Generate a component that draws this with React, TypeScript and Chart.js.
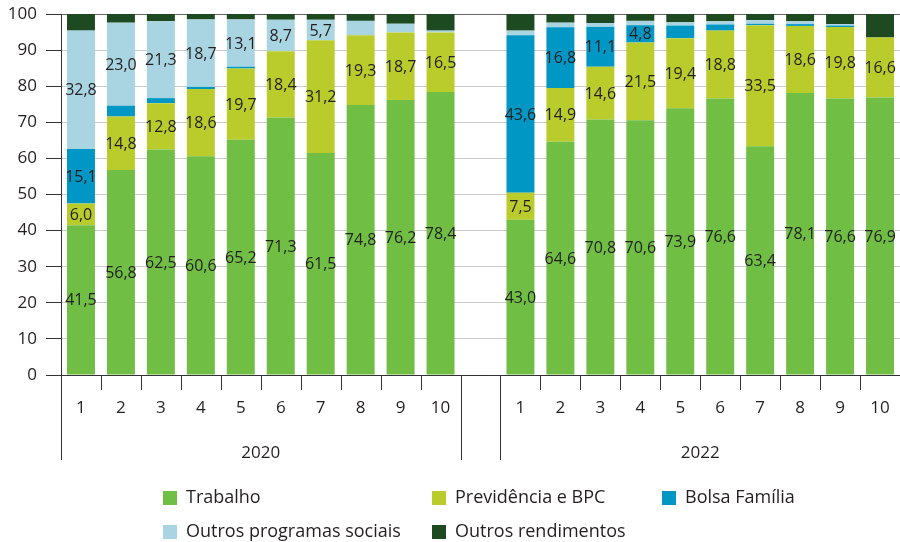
import React, { useEffect, useRef } from 'react';
import { Chart, registerables } from 'chart.js';

Chart.register(...registerables);

const categories = ['1', '2', '3', '4', '5', '6', '7', '8', '9', '10', '', '1', '2', '3', '4', '5', '6', '7', '8', '9', '10'];
const groupLabels = ['2020', '2022'];
const seriesNames = ['Trabalho', 'Previdência e BPC', 'Bolsa Família', 'Outros programas sociais', 'Outros rendimentos'];
const yTicks = [0, 10, 20, 30, 40, 50, 60, 70, 80, 90, 100];

const trabalho = [41.5, 56.8, 62.5, 60.6, 65.2, 71.3, 61.5, 74.8, 76.2, 78.4, null, 43.0, 64.6, 70.8, 70.6, 73.9, 76.6, 63.4, 78.1, 76.6, 76.9];
const previdencia = [6.0, 14.8, 12.8, 18.6, 19.7, 18.4, 31.2, 19.3, 18.7, 16.5, null, 7.5, 14.9, 14.6, 21.5, 19.4, 18.8, 33.5, 18.6, 19.8, 16.6];
const bolsaFamilia = [15.1, 3.0, 1.4, 0.6, 0.5, 0.0, 0.0, 0.0, 0.0, 0.0, null, 43.6, 16.8, 11.1, 4.8, 3.5, 1.7, 0.4, 0.5, 0.4, 0.0];
const outrosProgramas = [32.8, 23.0, 21.3, 18.7, 13.1, 8.7, 5.7, 4.0, 2.4, 0.5, null, 1.3, 1.3, 1.0, 1.2, 0.9, 0.9, 1.0, 0.8, 0.4, 0.0];
const outrosRendimentos = [4.6, 2.4, 2.0, 1.5, 1.5, 1.6, 1.6, 1.9, 2.7, 4.6, null, 4.6, 2.4, 2.5, 1.9, 2.3, 2.0, 1.7, 2.0, 2.8, 6.5];

const colors = ['#70be44', '#b9cc2b', '#0097c4', '#a9d4e1', '#1d4a20'];
const labelled = [true, true, true, true, false];
const minLabelValue = 4.5;

const FONT = "'Open Sans', 'Noto Sans', sans-serif";
const TEXT = '#231f20';
const AXIS = '#333333';

const fmt = (v: number) => v.toFixed(1).replace('.', ',');

const decorPlugin = {
  id: 'decor',
  afterDatasetsDraw(chart: any) {
    const ctx = chart.ctx;
    ctx.save();
    ctx.font = `16px ${FONT}`;
    ctx.fillStyle = TEXT;
    ctx.textAlign = 'center';
    ctx.textBaseline = 'middle';
    chart.data.datasets.forEach((ds: any, i: number) => {
      if (!labelled[i]) return;
      const meta = chart.getDatasetMeta(i);
      meta.data.forEach((bar: any, j: number) => {
        const v = ds.data[j];
        if (v == null || v < minLabelValue) return;
        const p = bar.getProps(['x', 'y', 'base'], true);
        ctx.fillText(fmt(v), p.x, (p.y + p.base) / 2 + 1);
      });
    });
    ctx.restore();
  },
  afterDraw(chart: any) {
    const ctx = chart.ctx;
    const area = chart.chartArea;
    const x = chart.scales.x;
    const y = chart.scales.y;
    const y0 = y.getPixelForValue(0);
    const px = (i: number) => x.getPixelForValue(i);
    ctx.save();
    ctx.strokeStyle = AXIS;
    ctx.lineWidth = 1;
    ctx.beginPath();
    ctx.moveTo(area.left - 15, Math.round(y0) + 0.5);
    ctx.lineTo(area.right, Math.round(y0) + 0.5);
    ctx.stroke();
    const shortBounds: number[] = [];
    for (let i = 0; i < 9; i++) shortBounds.push((px(i) + px(i + 1)) / 2);
    for (let i = 11; i < 20; i++) shortBounds.push((px(i) + px(i + 1)) / 2);
    ctx.beginPath();
    shortBounds.forEach((bx) => {
      const xx = Math.round(bx) + 0.5;
      ctx.moveTo(xx, y0);
      ctx.lineTo(xx, y0 + 15);
    });
    ctx.stroke();
    const longBounds = [area.left, (px(9) + px(10)) / 2, (px(10) + px(11)) / 2];
    ctx.beginPath();
    longBounds.forEach((bx) => {
      const xx = Math.round(bx) + 0.5;
      ctx.moveTo(xx, y0);
      ctx.lineTo(xx, y0 + 85);
    });
    ctx.stroke();
    ctx.fillStyle = TEXT;
    ctx.font = `17px ${FONT}`;
    ctx.textAlign = 'center';
    ctx.textBaseline = 'middle';
    categories.forEach((c, i) => {
      if (c) ctx.fillText(c, px(i), y0 + 33);
    });
    ctx.fillText(groupLabels[0], (px(0) + px(9)) / 2, y0 + 78);
    ctx.fillText(groupLabels[1], (px(11) + px(20)) / 2, y0 + 78);
    const cols = [163, 432, 662, 163, 432];
    const rows = [498, 498, 498, 532, 532];
    ctx.font = `18px ${FONT}`;
    ctx.textAlign = 'left';
    seriesNames.forEach((name, i) => {
      ctx.fillStyle = colors[i];
      ctx.fillRect(cols[i], rows[i] - 7, 14, 14);
      ctx.fillStyle = TEXT;
      ctx.fillText(name, cols[i] + 23, rows[i]);
    });
    ctx.restore();
  },
};

export default function App() {
  const ref = useRef<HTMLCanvasElement | null>(null);
  useEffect(() => {
    if (!ref.current) return;
    const seriesData = [trabalho, previdencia, bolsaFamilia, outrosProgramas, outrosRendimentos];
    const chart = new Chart(ref.current, {
      type: 'bar',
      data: {
        labels: categories,
        datasets: seriesNames.map((name, i) => ({
          label: name,
          data: seriesData[i] as any,
          backgroundColor: colors[i],
          borderWidth: 0,
          barPercentage: 0.7,
          categoryPercentage: 1.0,
        })),
      },
      options: {
        responsive: false,
        animation: false,
        devicePixelRatio: 1,
        layout: { padding: { top: 14, right: 0, left: 0, bottom: 0 } },
        plugins: { legend: { display: false }, tooltip: { enabled: false } },
        scales: {
          x: {
            stacked: true,
            grid: { display: false },
            ticks: { display: false },
            border: { display: false },
            afterFit: (s: any) => {
              s.height = 167;
            },
          },
          y: {
            stacked: true,
            min: 0,
            max: 100,
            afterBuildTicks: (s: any) => {
              s.ticks = yTicks.map((v) => ({ value: v }));
            },
            afterFit: (s: any) => {
              s.width = 61;
              s.paddingTop = 0;
              s.paddingBottom = 0;
            },
            ticks: { font: { family: FONT, size: 17 }, color: TEXT, padding: 9 },
            grid: {
              color: (c: any) => (c.tick && c.tick.value === 100 ? '#666666' : c.tick && c.tick.value === 0 ? AXIS : '#cccccc'),
              tickColor: AXIS,
              tickLength: 15,
              lineWidth: 1,
            },
            border: { display: true, color: AXIS, width: 1 },
          },
        },
      },
      plugins: [decorPlugin],
    });
    return () => chart.destroy();
  }, []);
  return (
    <div style={{ position: 'absolute', left: 0, top: 0, width: 900, height: 542, background: '#fff' }}>
      <canvas ref={ref} width={900} height={542} />
    </div>
  );
}
